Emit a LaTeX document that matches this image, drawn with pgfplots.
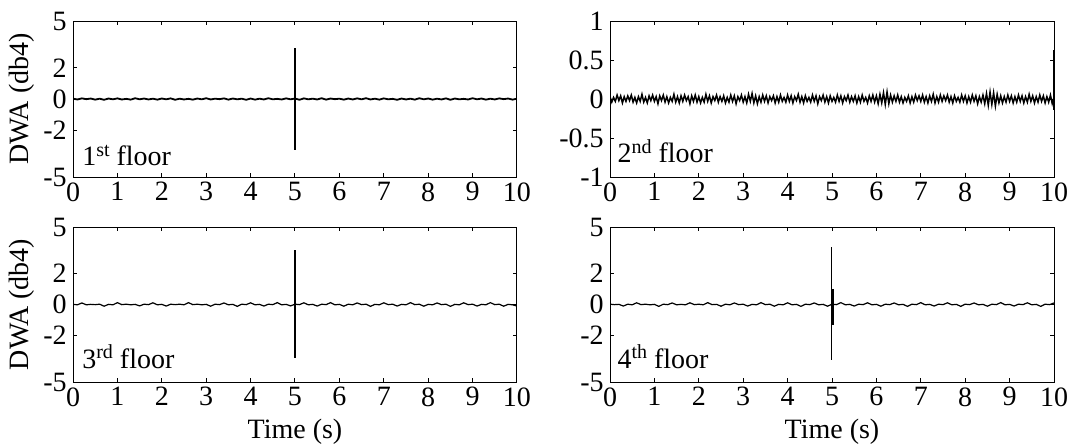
\documentclass[border=0pt]{standalone}
\usepackage{fontspec}
\setmainfont{Liberation Serif}
\usepackage{pgfplots}
\usepackage{pgfplotstable}
\pgfplotsset{compat=1.18}

% DWA (db4) detail signals, sampled every 0.1 s (2nd floor every 0.04 s)
\pgfplotstableread[row sep=\\]{y\\
0.02\\-0.03\\0.04\\-0.01\\0.03\\-0.04\\0.02\\-0.05\\0.03\\-0.02\\
0.04\\-0.03\\0.01\\-0.04\\0.05\\-0.02\\0.03\\-0.03\\0.02\\-0.04\\
0.03\\-0.02\\0.04\\-0.05\\0.02\\-0.03\\0.01\\-0.04\\0.03\\-0.02\\
0.05\\-0.03\\0.02\\-0.01\\0.04\\-0.04\\0.03\\-0.02\\0.02\\-0.05\\
0.03\\-0.04\\0.02\\-0.03\\0.05\\-0.02\\0.01\\-0.03\\0.04\\-0.02\\
0.03\\-0.05\\0.04\\-0.02\\0.02\\-0.03\\0.05\\-0.04\\0.03\\-0.01\\
0.02\\-0.04\\0.03\\-0.03\\0.04\\-0.02\\0.05\\-0.03\\0.02\\-0.04\\
0.04\\-0.02\\0.01\\-0.05\\0.03\\-0.03\\0.02\\-0.04\\0.05\\-0.02\\
0.03\\-0.04\\0.02\\-0.03\\0.04\\-0.05\\0.03\\-0.02\\0.01\\-0.03\\
0.05\\-0.02\\0.03\\-0.04\\0.02\\-0.03\\0.04\\-0.01\\0.03\\-0.04\\
0.02\\}\floorA

\pgfplotstableread[row sep=\\]{y\\
0.03\\-0.04\\0.02\\-0.03\\0.05\\-0.02\\0.04\\-0.05\\0.03\\-0.03\\
0.04\\-0.02\\0.05\\-0.04\\0.02\\-0.05\\0.03\\-0.03\\0.06\\-0.04\\
0.02\\-0.05\\0.04\\-0.02\\0.05\\-0.03\\0.03\\-0.06\\0.04\\-0.02\\
0.05\\-0.04\\0.03\\-0.05\\0.02\\-0.03\\0.06\\-0.04\\0.03\\-0.05\\
0.04\\-0.03\\0.05\\-0.02\\0.03\\-0.06\\0.04\\-0.03\\0.05\\-0.04\\
0.03\\-0.05\\0.02\\-0.04\\0.06\\-0.03\\0.04\\-0.05\\0.03\\-0.02\\
0.05\\-0.04\\0.03\\-0.03\\0.04\\-0.05\\0.02\\-0.04\\0.05\\-0.03\\
0.04\\-0.06\\0.03\\-0.02\\0.05\\-0.04\\0.03\\-0.05\\0.06\\-0.03\\
0.07\\-0.05\\0.04\\-0.06\\0.03\\-0.04\\0.05\\-0.03\\0.04\\-0.05\\
0.03\\-0.02\\0.04\\-0.05\\0.03\\-0.04\\0.05\\-0.03\\0.02\\-0.04\\
0.05\\-0.03\\0.04\\-0.05\\0.03\\-0.02\\0.06\\-0.04\\0.03\\-0.05\\
0.04\\-0.03\\0.02\\-0.04\\0.05\\-0.03\\0.04\\-0.06\\0.03\\-0.02\\
0.05\\-0.04\\0.03\\-0.05\\0.04\\-0.03\\0.02\\-0.04\\0.05\\-0.03\\
0.04\\-0.05\\0.03\\-0.02\\0.05\\-0.04\\0.03\\-0.03\\0.04\\-0.05\\
0.03\\-0.04\\0.05\\-0.03\\0.02\\-0.05\\0.04\\-0.03\\0.05\\-0.04\\
0.04\\-0.06\\0.06\\-0.05\\0.08\\-0.07\\0.09\\-0.06\\0.05\\-0.04\\
0.04\\-0.03\\0.05\\-0.04\\0.03\\-0.05\\0.02\\-0.03\\0.04\\-0.05\\
0.03\\-0.04\\0.05\\-0.02\\0.04\\-0.03\\0.05\\-0.04\\0.03\\-0.05\\
0.04\\-0.03\\0.06\\-0.05\\0.03\\-0.04\\0.05\\-0.03\\0.04\\-0.02\\
0.05\\-0.04\\0.03\\-0.05\\0.04\\-0.03\\0.02\\-0.04\\0.05\\-0.03\\
0.04\\-0.05\\0.03\\-0.04\\0.05\\-0.03\\0.04\\-0.06\\0.03\\-0.04\\
0.05\\-0.06\\0.07\\-0.08\\0.09\\-0.07\\0.08\\-0.09\\0.06\\-0.05\\
0.04\\-0.05\\0.03\\-0.04\\0.05\\-0.03\\0.04\\-0.05\\0.03\\-0.04\\
0.05\\-0.03\\0.04\\-0.05\\0.03\\-0.04\\0.06\\-0.03\\0.04\\-0.05\\
0.03\\-0.04\\0.05\\-0.03\\0.04\\-0.05\\0.03\\-0.04\\0.05\\-0.06\\
0.02\\}\floorB

\pgfplotstableread[row sep=\\]{y\\
0.01\\-0.02\\0.10\\-0.02\\0.01\\-0.01\\0.02\\-0.11\\0.01\\-0.02\\
0.12\\-0.01\\0.02\\-0.02\\0.01\\-0.09\\0.02\\-0.01\\0.11\\-0.02\\
0.01\\-0.10\\0.02\\-0.01\\0.02\\-0.02\\0.12\\-0.01\\0.02\\-0.02\\
0.01\\-0.11\\0.02\\-0.01\\0.10\\-0.02\\0.01\\-0.12\\0.02\\-0.01\\
0.11\\-0.02\\0.01\\-0.10\\0.02\\-0.01\\0.12\\-0.02\\0.01\\-0.09\\
0.02\\-0.01\\0.11\\-0.02\\0.01\\-0.10\\0.02\\-0.01\\0.12\\-0.02\\
0.01\\-0.11\\0.02\\-0.02\\0.10\\-0.01\\0.02\\-0.12\\0.01\\-0.02\\
0.11\\-0.01\\0.02\\-0.10\\0.01\\-0.02\\0.12\\-0.01\\0.02\\-0.11\\
0.01\\-0.02\\0.10\\-0.01\\0.02\\-0.12\\0.01\\-0.02\\0.11\\-0.01\\
0.02\\-0.10\\0.01\\-0.02\\0.12\\-0.01\\0.02\\-0.11\\0.01\\-0.02\\
-0.10\\}\floorC

\pgfplotstableread[row sep=\\]{y\\
0.02\\-0.01\\0.01\\-0.10\\0.02\\-0.02\\0.11\\-0.01\\0.02\\-0.02\\
0.01\\-0.12\\0.02\\-0.01\\0.10\\-0.02\\0.01\\-0.02\\0.11\\-0.01\\
0.02\\-0.02\\0.12\\-0.01\\0.01\\-0.11\\0.02\\-0.02\\0.10\\-0.01\\
0.02\\-0.10\\0.01\\-0.02\\0.12\\-0.01\\0.02\\-0.11\\0.01\\-0.02\\
0.11\\-0.02\\0.01\\-0.12\\0.02\\-0.01\\0.10\\-0.02\\0.01\\-0.11\\
0.02\\-0.01\\0.12\\-0.02\\0.01\\-0.10\\0.02\\-0.01\\0.11\\-0.02\\
0.01\\-0.11\\0.02\\-0.01\\0.10\\-0.02\\0.01\\-0.12\\0.02\\-0.01\\
0.12\\-0.02\\0.01\\-0.10\\0.02\\-0.01\\0.11\\-0.02\\0.01\\-0.12\\
0.02\\-0.01\\0.10\\-0.02\\0.01\\-0.11\\0.02\\-0.01\\0.12\\-0.02\\
0.01\\-0.10\\0.02\\-0.01\\0.11\\-0.02\\0.01\\-0.12\\0.02\\-0.01\\
0.10\\}\floorD

\newcommand{\floorlabel}[2]{#1\raisebox{4.6pt}{\fontsize{10}{11}\selectfont #2} floor}

\pgfplotsset{
  dwa/.style={
    scale only axis,
    width=222pt, height=78pt,
    xmin=0, xmax=10,
    xtick={0,1,2,3,4,5,6,7,8,9,10},
    xticklabels={0,1,2,3,4,5,6,7,8,9,10},
    tick align=inside,
    major tick length=2.2pt,
    axis line style={line width=0.5pt},
    every tick/.style={black, line width=0.5pt},
    xticklabel style={anchor=north, inner sep=0pt, yshift=-2.5pt},
    yticklabel style={anchor=east, inner sep=0pt, xshift=-3pt},
    ylabel style={at={(axis description cs:-0.115,0.5)}, anchor=center, inner sep=0pt},
    xlabel style={at={(axis description cs:0.5,0)}, anchor=base, inner sep=0pt, yshift=-28pt},
    cycle list={{black, line width=0.8pt, mark=none}},
    clip=true,
  },
  five/.style={
    ymin=-5, ymax=5,
    ytick={-5,-2,0,2,5},
    yticklabels={-5,-2,0,2,5},
  },
  noise/.style={black, mark=none, line width=#1},
}

\begin{document}
\fontsize{14}{16}\selectfont
\begin{tikzpicture}
\useasboundingbox (0,0) rectangle (536.5pt,223pt);

% 1st floor
\begin{axis}[dwa, five, at={(36.5pt,134.5pt)}, anchor=south west, ylabel={DWA (db4)}]
  \addplot[noise=0.9pt] table[x expr=\coordindex/10, y=y] {\floorA};
  \addplot coordinates {(5,3.25) (5,-3.3)};
  \node[anchor=base west, inner sep=0pt] at (axis description cs:0.02,0.075) {\floorlabel{1}{st}};
\end{axis}

% 2nd floor
\begin{axis}[dwa, at={(305pt,134.5pt)}, anchor=south west,
  ymin=-1, ymax=1, ytick={-1,-0.5,0,0.5,1}, yticklabels={-1,-0.5,0,0.5,1}]
  \addplot[noise=0.75pt] table[x expr=\coordindex/25, y=y] {\floorB};
  \addplot coordinates {(10,0.63) (10,-0.14)};
  \node[anchor=base west, inner sep=0pt] at (axis description cs:0.016,0.09) {\floorlabel{2}{nd}};
\end{axis}

% 3rd floor
\begin{axis}[dwa, five, at={(36.5pt,32pt)}, anchor=south west, height=77.5pt,
  ylabel={DWA (db4)}, xlabel={Time (s)}]
  \addplot[noise=0.6pt] table[x expr=\coordindex/10, y=y] {\floorC};
  \addplot coordinates {(5,3.5) (5,-3.45)};
  \addplot coordinates {(10,0) (10,-0.85)};
  \node[anchor=base west, inner sep=0pt] at (axis description cs:0.02,0.09) {\floorlabel{3}{rd}};
\end{axis}

% 4th floor
\begin{axis}[dwa, five, at={(305pt,32pt)}, anchor=south west, height=77.5pt,
  xlabel={Time (s)}]
  \addplot[noise=0.6pt] table[x expr=\coordindex/10, y=y] {\floorD};
  \addplot[black, line width=0.6pt] coordinates {(4.98,3.7) (4.98,-3.6)};
  \addplot[black, line width=1.1pt] coordinates {(5.02,1.0) (5.02,-1.3)};
  \addplot coordinates {(10,0) (10,0.55)};
  \node[anchor=base west, inner sep=0pt] at (axis description cs:0.016,0.09) {\floorlabel{4}{th}};
\end{axis}
\end{tikzpicture}
\end{document}
